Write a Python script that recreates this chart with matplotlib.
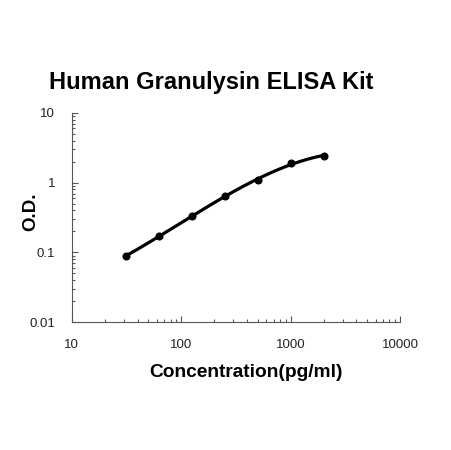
import numpy as np
import matplotlib
matplotlib.use("Agg")
import matplotlib.pyplot as plt

# standard curve points
conc = [31.25, 62.5, 125, 250, 500, 1000, 2000]
od = [0.089, 0.171, 0.332, 0.636, 1.09, 1.89, 2.43]

plt.rcParams['font.family'] = ['Liberation Sans', 'DejaVu Sans']

fig = plt.figure(figsize=(4.52, 4.5), dpi=100)
ax = fig.add_axes([0.159, 0.284, 0.726, 0.465])

# smooth fit in log-log space
lx = np.log10(conc)
ly = np.log10(od)
coef = np.polyfit(lx, ly, 3)
xs = np.linspace(lx[0], lx[-1], 200)
ax.plot(10 ** xs, 10 ** np.polyval(coef, xs), color='black', lw=2.3)
ax.plot(conc, od, 'o', color='black', ms=4.8)

ax.set_xscale('log')
ax.set_yscale('log')
ax.set_xlim(10, 10000)
ax.set_ylim(0.01, 10)
ax.set_xticks([10, 100, 1000, 10000])
ax.set_xticklabels(['10', '100', '1000', '10000'])
ax.set_yticks([0.01, 0.1, 1, 10])
ax.set_yticklabels(['0.01', '0.1', '1', '10'])
ax.spines['top'].set_visible(False)
ax.spines['right'].set_visible(False)
for s in ['left', 'bottom']:
    ax.spines[s].set_color('#555555')
ax.tick_params(which='both', direction='in', labelsize=9.5, width=0.8,
               color='#555555', labelcolor='#222222')
ax.tick_params(which='major', length=4, pad=12)
ax.tick_params(which='minor', length=2.5)

ax.set_xlabel('Concentration(pg/ml)', fontsize=13.8, fontweight='bold')
ax.xaxis.set_label_coords(0.53, -0.2)
ax.set_ylabel('O.D.', fontsize=13.5, fontweight='bold')
ax.yaxis.set_label_coords(-0.1, 0.526)
fig.text(0.467, 0.816, 'Human Granulysin ELISA Kit', fontsize=17, fontweight='bold',
         ha='center', va='center')

fig.savefig('out.png', dpi=100)
